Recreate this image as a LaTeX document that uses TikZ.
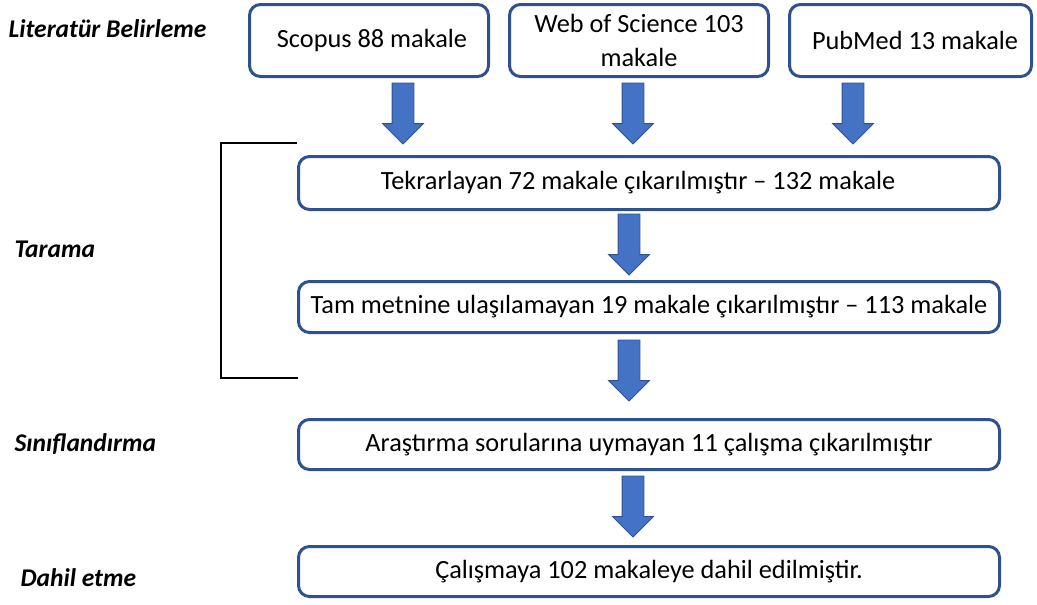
\documentclass[tikz,border=0pt]{standalone}
\usepackage{fontspec}
\setmainfont{Carlito}
\usetikzlibrary{shapes.arrows}

\definecolor{boxline}{HTML}{2F528F}
\definecolor{arrowfill}{HTML}{4472C4}

\tikzset{
	stagebox/.style={draw=boxline,line width=3pt,fill=white,rounded corners=11pt,
		align=center,font=\fontsize{26.3}{34}\selectfont,inner sep=2pt},
	blockarr/.style={single arrow,draw=boxline,line width=0.8pt,fill=arrowfill,
		rotate=-90,anchor=tail,minimum height=61pt,inner xsep=0pt,inner ysep=10.5pt,
		single arrow head extend=9.5pt,outer sep=0pt},
	phase/.style={anchor=west,font=\fontsize{25.5}{30}\selectfont\bfseries\itshape}
}

\begin{document}
\begin{tikzpicture}[x=1pt,y=-1pt]
	\useasboundingbox (0,0) rectangle (1037,605);
	% kaynaklar
	\node[stagebox,minimum width=239pt,minimum height=72pt](scopus)at(369,40.5){\hspace*{6pt}Scopus 88 makale};
	\node[stagebox,minimum width=259pt,minimum height=72pt](wos)at(639,40.5){Web of Science 103\\makale};
	\node[stagebox,minimum width=242pt,minimum height=72pt](pubmed)at(910.5,40.5){\hspace*{9pt}PubMed 13 makale};
	% ana adimlar
	\node[stagebox,minimum width=701pt,minimum height=53pt](tekrar)at(649,183){Tekrarlayan 72 makale çıkarılmıştır -- 132 makale\hspace*{22pt}};
	\node[stagebox,minimum width=701pt,minimum height=51pt](tammetin)at(649,307){Tam metnine ulaşılamayan 19 makale çıkarılmıştır -- 113 makale};
	\node[stagebox,minimum width=701pt,minimum height=50pt](arastirma)at(649,444.5){Araştırma sorularına uymayan 11 çalışma çıkarılmıştır};
	\node[stagebox,minimum width=701pt,minimum height=50pt](dahil)at(649,571.5){Çalışmaya 102 makaleye dahil edilmiştir.};
	% oklar
	\node[blockarr](ok1)at(403,83){};
	\node[blockarr](ok2)at(633,83){};
	\node[blockarr](ok3)at(853,83){};
	\node[blockarr](ok4)at(629,214){};
	\node[blockarr](ok5)at(629,340){};
	\node[blockarr](ok6)at(633,476){};
	% asamalar
	\node[phase](lit)at(5,29){Literatür Belirleme};
	\node[phase](tar)at(11,249){Tarama};
	\node[phase](sin)at(11,444){Sınıflandırma};
	\node[phase](dah)at(17,578){Dahil etme};
	\draw[line width=2pt](297,143)--(221,143)--(221,378)--(298,378);
\end{tikzpicture}
\end{document}
